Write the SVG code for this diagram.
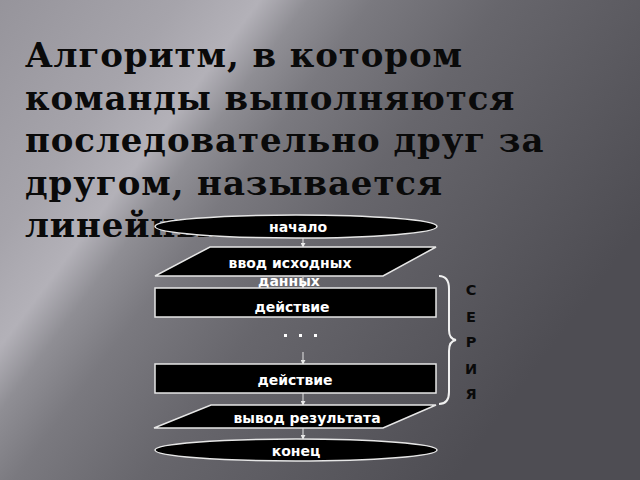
<svg xmlns="http://www.w3.org/2000/svg" width="640" height="480" viewBox="0 0 640 480">
<defs>
<linearGradient id="bg" gradientUnits="userSpaceOnUse" x1="0" y1="0" x2="520" y2="390">
<stop offset="0" stop-color="#96949b"/>
<stop offset="0.22" stop-color="#a6a4ab"/>
<stop offset="0.32" stop-color="#b3b1b8"/>
<stop offset="0.38" stop-color="#8f8e94"/>
<stop offset="0.46" stop-color="#7a797f"/>
<stop offset="0.62" stop-color="#67666c"/>
<stop offset="1" stop-color="#4e4d53"/>
</linearGradient>
<marker id="ah" viewBox="0 0 6 6" refX="5" refY="3" markerWidth="5" markerHeight="5" orient="auto" markerUnits="userSpaceOnUse">
<path d="M0,0 L6,3 L0,6 z" fill="#e8e8e8"/>
</marker>
<style>
.title{font-family:"DejaVu Serif",serif;font-weight:bold;font-size:34px;letter-spacing:0.9px;fill:#0a0a0a}
.shape{fill:#000;stroke:#e6e6e6;stroke-width:1.5}
.lbl{font-family:"DejaVu Sans",sans-serif;font-weight:bold;font-size:14px;fill:#fff;text-anchor:middle}
.conn{stroke:#e6e6e6;stroke-width:1;fill:none;marker-end:url(#ah)}
.ser{font-family:"DejaVu Sans",sans-serif;font-weight:bold;font-size:14.5px;fill:#0a0a0a;text-anchor:middle}
</style>
</defs>
<rect width="640" height="480" fill="url(#bg)"/>
<g id="title" class="title">
<text x="25" y="67">Алгоритм, в котором</text>
<text x="25" y="110">команды выполняются</text>
<text x="25" y="152">последовательно друг за</text>
<text x="25" y="195">другом, называется</text>
<text x="25" y="237">линейным.</text>
</g>
<g id="connectors">
<line class="conn" x1="303" y1="238" x2="303" y2="247"/>
<line class="conn" x1="303" y1="277" x2="303" y2="288"/>
<line class="conn" x1="303" y1="352" x2="303" y2="364"/>
<line class="conn" x1="303" y1="393" x2="303" y2="405"/>
<line class="conn" x1="303" y1="428" x2="303" y2="439"/>
</g>
<g id="start">
<ellipse class="shape" cx="296" cy="226.5" rx="141" ry="11.5"/>
<text class="lbl" x="298" y="231.5">начало</text>
</g>
<g id="input">
<polygon class="shape" points="210,247 436,247 383,276 155,276"/>
<text class="lbl" x="290" y="268">ввод исходных</text>
<text class="lbl" x="289" y="286">данных</text>
</g>
<g id="action1">
<rect class="shape" x="155" y="288" width="281" height="29"/>
<text class="lbl" x="292" y="312">действие</text>
</g>
<g id="dots" fill="#fff">
<rect x="284" y="334" width="3" height="3"/>
<rect x="299" y="334" width="3" height="3"/>
<rect x="314" y="334" width="3" height="3"/>
</g>
<g id="action2">
<rect class="shape" x="155" y="364" width="281" height="29"/>
<text class="lbl" x="295" y="385">действие</text>
</g>
<g id="output">
<polygon class="shape" points="211,405 436,405 383,428 154,428"/>
<text class="lbl" x="307" y="423">вывод результата</text>
</g>
<g id="end">
<ellipse class="shape" cx="296" cy="450" rx="141" ry="11"/>
<text class="lbl" x="296" y="456">конец</text>
</g>
<g id="series">
<path d="M439,276 Q449,276 449,289 L449,330 Q449,339 456,340 Q449,341 449,351 L449,392 Q449,404 439,404" fill="none" stroke="#f0f0f0" stroke-width="2"/>
<text class="ser" x="471" y="295">С</text>
<text class="ser" x="471" y="322">Е</text>
<text class="ser" x="471" y="347">Р</text>
<text class="ser" x="471" y="374">И</text>
<text class="ser" x="471" y="399">Я</text>
</g>
</svg>
